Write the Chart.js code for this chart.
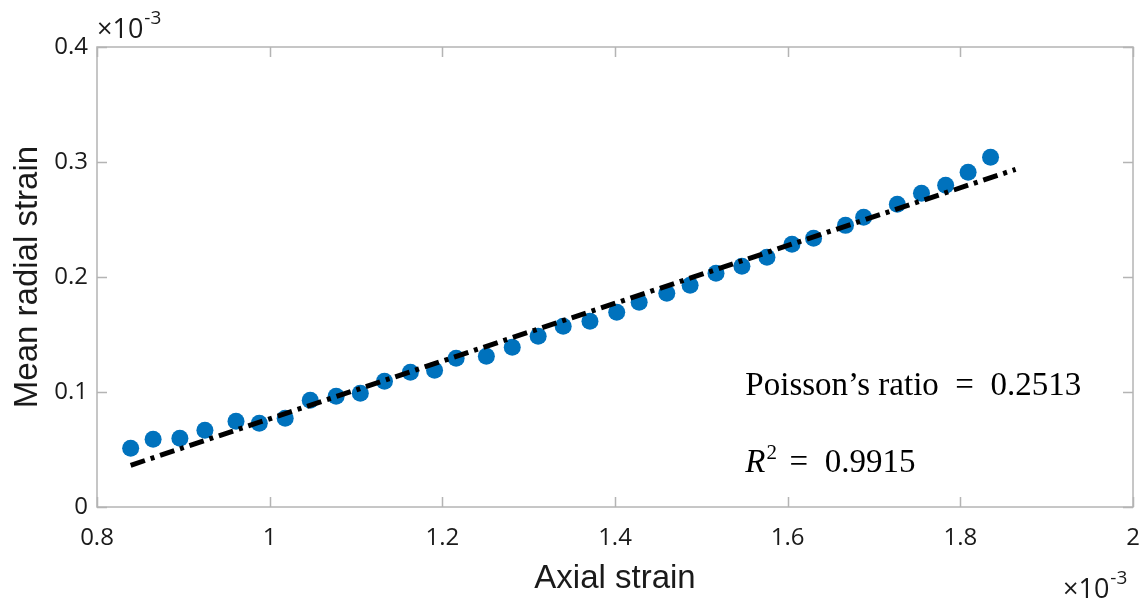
<!DOCTYPE html>
<html>
<head>
<meta charset="utf-8">
<script src="https://cdn.jsdelivr.net/npm/chart.js@4/dist/chart.umd.min.js"></script>
<style>
    html, body { margin: 0; padding: 0; background: #fff; }
    #wrap { width: 1143px; height: 605px; }
</style>
</head>
<body>
<div id="wrap"><canvas id="chartCanvas" width="1143" height="605"></canvas></div>
<script>
// Measured points (axial strain, mean radial strain), both x 10^-3
const axialStrain = [
    0.839, 0.865, 0.896, 0.925, 0.961, 0.988, 1.018, 1.047, 1.077, 1.105,
    1.133, 1.163, 1.191, 1.216, 1.251, 1.281, 1.311, 1.340, 1.371, 1.402,
    1.428, 1.460, 1.487, 1.517, 1.547, 1.576, 1.605, 1.630, 1.667, 1.688,
    1.727, 1.755, 1.783, 1.809, 1.835,
];
const radialStrain = [
    0.0510, 0.0589, 0.0597, 0.0667, 0.0745, 0.0728, 0.0771, 0.0928, 0.0963, 0.0989,
    0.1093, 0.1171, 0.1189, 0.1293, 0.1310, 0.1389, 0.1484, 0.1571, 0.1615, 0.1693,
    0.1780, 0.1858, 0.1928, 0.2032, 0.2093, 0.2171, 0.2284, 0.2336, 0.2449, 0.2519,
    0.2632, 0.2728, 0.2797, 0.2910, 0.3041,
];

// Linear fit end points
const fitX = [0.839, 1.864];
const fitY = [0.0363, 0.2936];

const xTickLabels = ['0.8', '1', '1.2', '1.4', '1.6', '1.8', '2'];
const yTickLabels = ['0', '0.1', '0.2', '0.3', '0.4'];

const BLUE = '#0072BD';
const FRAME = '#b4b4b4';
const TEXT = '#1a1a1a';
const TICK_FONT = { family: '"Open Sans", "Noto Sans", sans-serif', size: 24 };

// box, inward ticks, x10^-3 labels and fit text
const framePlugin = {
    id: 'frame',
    afterDraw(chart) {
        const { ctx, chartArea: a, scales } = chart;
        const xs = scales.x, ys = scales.y;
        ctx.save();
        ctx.strokeStyle = FRAME;
        ctx.lineWidth = 1.5;
        ctx.strokeRect(a.left, a.top, a.right - a.left, a.bottom - a.top);

        const len = 10;
        ctx.beginPath();
        xs.ticks.forEach(t => {
            const px = Math.round(xs.getPixelForValue(t.value)) + 0.5;
            ctx.moveTo(px, a.bottom); ctx.lineTo(px, a.bottom - len);
            ctx.moveTo(px, a.top); ctx.lineTo(px, a.top + len);
        });
        ys.ticks.forEach(t => {
            const py = Math.round(ys.getPixelForValue(t.value)) + 0.5;
            ctx.moveTo(a.left, py); ctx.lineTo(a.left + len, py);
            ctx.moveTo(a.right, py); ctx.lineTo(a.right - len, py);
        });
        ctx.stroke();

        // exponent labels
        ctx.fillStyle = TEXT;
        ctx.textBaseline = 'alphabetic';
        ctx.textAlign = 'left';
        const drawExp = (x, y) => {
            ctx.font = '27px "Open Sans", sans-serif';
            ctx.fillText('\u00d710', x, y);
            const w = ctx.measureText('\u00d710').width;
            ctx.font = '19px "Open Sans", sans-serif';
            ctx.fillText('-3', w + x + 1, y - 14);
        };
        drawExp(a.left, a.top - 9);
        drawExp(a.right - 70, 598);

        // fit annotation
        ctx.fillStyle = '#000';
        const tx = xs.getPixelForValue(1.551);
        ctx.font = '33px "Liberation Serif", serif';
        ctx.fillText('Poisson\u2019s ratio  =  0.2513', tx, ys.getPixelForValue(0.0971));
        const ry = ys.getPixelForValue(0.0302);
        ctx.font = 'italic 33px "Liberation Serif", serif';
        ctx.fillText('R', tx, ry);
        let w = ctx.measureText('R').width;
        ctx.font = '21px "Liberation Serif", serif';
        ctx.fillText('2', tx + w + 1, ry - 13);
        ctx.font = '33px "Liberation Serif", serif';
        ctx.fillText('=  0.9915', tx + w + 24, ry);
        ctx.restore();
    },
};

const ctx = document.getElementById('chartCanvas');
new Chart(ctx, {
    type: 'scatter',
    data: {
        datasets: [
            {
                type: 'line',
                label: 'Fit',
                data: fitX.map((x, i) => ({ x: x, y: fitY[i] })),
                borderColor: '#000',
                borderWidth: 5,
                borderDash: [15, 6, 4, 6],
                pointRadius: 0,
                fill: false,
                order: 0,
            },
            {
                label: 'Measured',
                data: axialStrain.map((x, i) => ({ x: x, y: radialStrain[i] })),
                backgroundColor: BLUE,
                borderColor: BLUE,
                borderWidth: 0,
                pointRadius: 8.5,
                order: 1,
            },
        ],
    },
    options: {
        responsive: false,
        animation: false,
        devicePixelRatio: 1,
        layout: { padding: { top: 47, right: 10, left: 0, bottom: 0 } },
        plugins: {
            legend: { display: false },
            tooltip: { enabled: false },
        },
        scales: {
            x: {
                type: 'linear',
                min: 0.8,
                max: 2,
                grid: { display: false, drawTicks: false },
                border: { display: false },
                ticks: {
                    stepSize: 0.2,
                    padding: 17,
                    color: TEXT,
                    font: TICK_FONT,
                    maxRotation: 0,
                    callback: (v, i) => xTickLabels[i],
                },
                title: {
                    display: true,
                    text: 'Axial strain',
                    color: TEXT,
                    font: { family: '"Liberation Sans", Arial, sans-serif', size: 33 },
                    padding: { top: 0, bottom: 6 },
                },
                afterFit: s => {
                    s.height = 98;
                    s.paddingLeft = 0;
                    s.paddingRight = 0;
                },
            },
            y: {
                type: 'linear',
                min: 0,
                max: 0.4,
                grid: { display: false, drawTicks: false },
                border: { display: false },
                ticks: {
                    stepSize: 0.1,
                    padding: 9,
                    color: TEXT,
                    font: TICK_FONT,
                    callback: (v, i) => yTickLabels[i],
                },
                title: {
                    display: true,
                    text: 'Mean radial strain',
                    color: TEXT,
                    font: { family: '"Liberation Sans", Arial, sans-serif', size: 33 },
                    padding: { top: 8, bottom: 0 },
                },
                afterFit: s => {
                    s.width = 97;
                    s.paddingTop = 0;
                    s.paddingBottom = 0;
                },
            },
        },
    },
    plugins: [framePlugin],
});
</script>
</body>
</html>
